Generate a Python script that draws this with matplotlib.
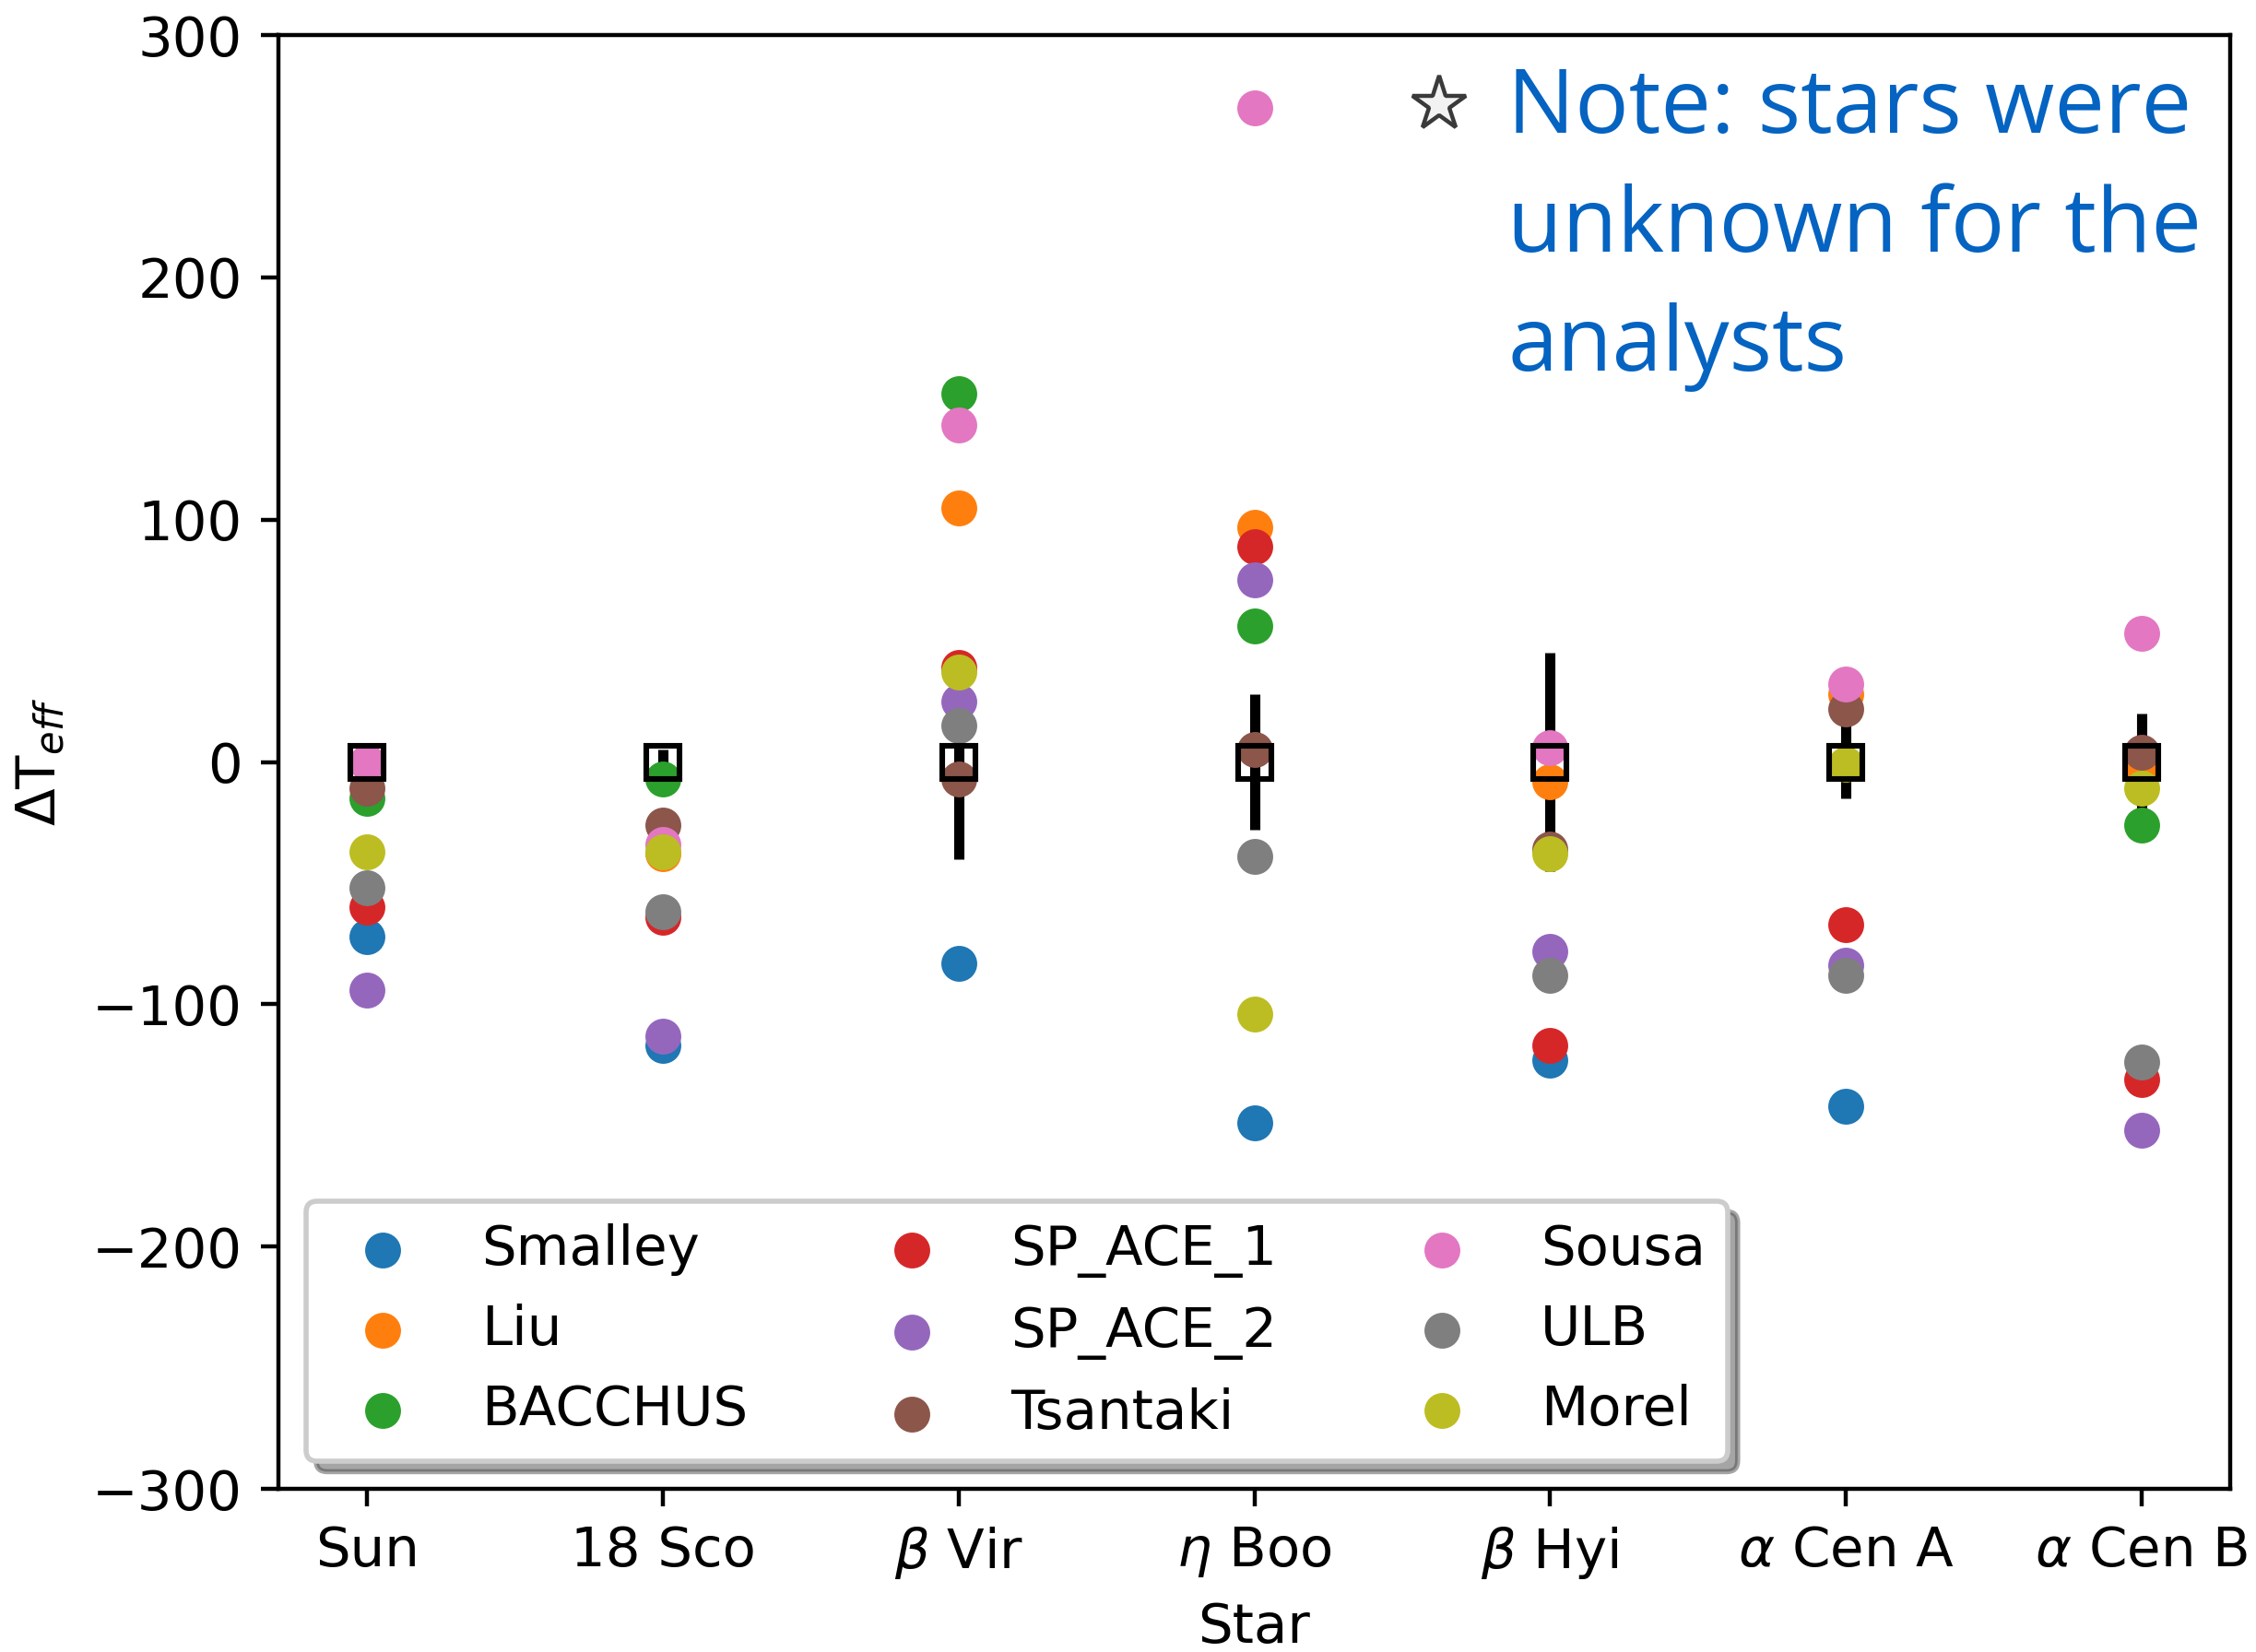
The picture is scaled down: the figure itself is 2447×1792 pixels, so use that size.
import numpy as np
import matplotlib
matplotlib.use('Agg')
import matplotlib.pyplot as plt

nan = np.nan

stars = ['Sun', '18 Sco', r'$\beta$ Vir', r'$\eta$ Boo', r'$\beta$ Hyi',
         r'$\alpha$ Cen A', r'$\alpha$ Cen B']

# Teff differences per pipeline (K), one value per star
smalley = [-72, -117, -83, -149, -123, -142, nan]
liu = [0, -38, 105, 97, -8, 28, -3]
bacchus = [-15, -7, 152, 56, nan, nan, -26]
sp_ace_1 = [-60, -64, 39, 89, -117, -67, -131]
sp_ace_2 = [-94, -113, 25, 75, -78, -84, -152]
tsantaki = [-11, -26, -7, 5, -36, 22, 4]
sousa = [0, -34, 139, 270, 6, 32, 53]
ulb = [-52, -62, 15, -39, -88, -88, -124]
morel = [-37, -37, 37, -104, -38, -1, -11]

names = ['Smalley', 'Liu', 'BACCHUS', 'SP_ACE_1', 'SP_ACE_2', 'Tsantaki',
         'Sousa', 'ULB', 'Morel']
series = [smalley, liu, bacchus, sp_ace_1, sp_ace_2, tsantaki, sousa, ulb, morel]

# reference value (0) and its uncertainty
ref_err = [0, 5, 40, 28, 45, 15, 20]

plt.rcParams['font.size'] = 10.7

fig = plt.figure(figsize=(2447 / 400, 1792 / 400), dpi=400)
ax = fig.add_axes([302 / 2447, 1 - 1615 / 1792, (2419 - 302) / 2447, (1615 - 38) / 1792])

x = np.arange(len(stars))
ax.errorbar(x, np.zeros(len(x)), yerr=ref_err, fmt='none', ecolor='k',
            elinewidth=2, zorder=0.9)

for name, vals in zip(names, series):
    ax.scatter(x, vals, label=name)

ax.plot(x, np.zeros(len(x)), 's', mfc='none', mec='k', ms=6.5, mew=1.1, zorder=3)

ax.set_xlim(-0.3, 6.3)
ax.set_ylim(-300, 300)
ax.set_xticks(x)
ax.set_xticklabels(stars)
ax.set_xlabel('Star', labelpad=4)
ax.set_ylabel(r'$\Delta$T$_{eff}$', labelpad=5)

ax.legend(ncol=3, loc='lower left', shadow=True)

# note added on top of the plot
ax.plot([1561 / 2447], [1 - 113 / 1792], marker='*', ms=11, mfc='#f2f2f2',
        mec='#3a3a3a', mew=0.8, transform=fig.transFigure, clip_on=False)
fig.text(1635 / 2447, 1 - 70 / 1792, 'Note: stars were\nunknown for the\nanalysts',
         color='#0563C1', fontsize=17.5, family='Open Sans', va='top', ha='left',
         linespacing=1.43)

fig.savefig('out.png', dpi=400)
